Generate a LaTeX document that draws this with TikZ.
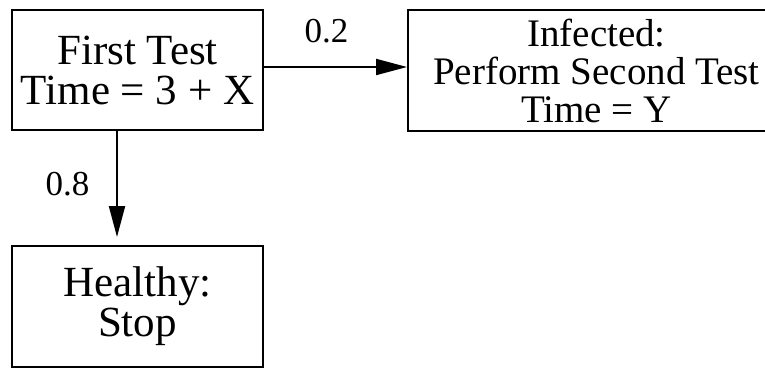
\documentclass[tikz,border=0pt]{standalone}
\usepackage{fontspec}
\setmainfont{Liberation Serif}
\newfontfamily\boxfont{Liberation Serif}
\usetikzlibrary{arrows.meta,positioning}

\begin{document}
\begin{tikzpicture}[x=1pt,y=-1pt,
  box/.style={draw, line width=2pt, align=center, inner sep=0pt},
  link/.style={line width=2pt, -{Triangle[length=31pt,width=16pt]}},
  prob/.style={font=\boxfont\fontsize{35}{35}\selectfont}]
  \useasboundingbox (0,0) rectangle (765,368);

  % boxes
  \node[box, minimum width=251pt, minimum height=120pt,
        font=\boxfont\fontsize{43}{40}\selectfont] (first) at (137.5,70) {First Test\\Time = 3 + X};
  \node[box, minimum width=377pt, minimum height=121pt,
        font=\boxfont\fontsize{39}{38}\selectfont] (infected) at (596.5,70.5) {Infected:\\Perform Second Test\\Time = Y};
  \node[box, minimum width=251pt, minimum height=121pt,
        font=\boxfont\fontsize{43}{40}\selectfont] (healthy) at (137.5,306.5) {Healthy:\\Stop};

  % branches
  \draw[link] ([yshift=3pt]first.east) -- ([yshift=3pt]first.east -| infected.west);
  \draw[link, shorten >=8pt] ([xshift=-20.5pt]first.south) -- ([xshift=-20.5pt]first.south |- healthy.north);

  \node[prob] (pinf) at (326.5,31.5) {0.2};
  \node[prob] (pheal) at (67.5,184) {0.8};
\end{tikzpicture}
\end{document}
